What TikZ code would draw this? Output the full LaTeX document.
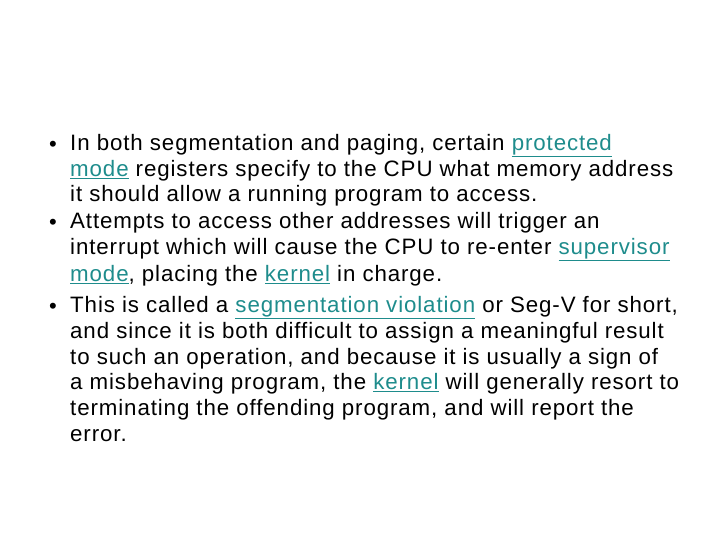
\documentclass[tikz,border=0pt]{standalone}
\usepackage{fontspec}
\setmainfont{Liberation Sans}[LetterSpace=4]
\definecolor{lnk}{RGB}{30,140,140}
\newcommand{\lk}[1]{\textcolor{lnk}{\underline{#1}}}
\begin{document}
\begin{tikzpicture}[x=1pt,y=-1pt,
  ln/.style={anchor=mid west,inner sep=0pt,font=\fontsize{22.3}{26}\selectfont},
  bl/.style={anchor=mid,inner sep=0pt,font=\fontsize{22}{26}\selectfont}]
\useasboundingbox (0,0) rectangle (720,540);
\node[bl] (b1) at (53,149) {•};
\node[bl] (b2) at (53,227) {•};
\node[bl] (b3) at (53,311) {•};
\node[ln] (l1) at (70,148) {In both segmentation and paging, certain \lk{protected}};
\node[ln] (l2) at (70,174) {\lk{mode} registers specify to the CPU what memory address};
\node[ln] (l3) at (70,199) {it should allow a running program to access.};
\node[ln] (l4) at (70,226) {Attempts to access other addresses will trigger an};
\node[ln] (l5) at (70,252) {interrupt which will cause the CPU to re-enter \lk{supervisor}};
\node[ln] (l6) at (70,279) {\lk{mode}, placing the \lk{kernel} in charge.};
\node[ln] (l7) at (70,310) {This is called a \lk{segmentation violation} or Seg-V for short,};
\node[ln] (l8) at (70,336) {and since it is both difficult to assign a meaningful result};
\node[ln] (l9) at (70,362) {to such an operation, and because it is usually a sign of};
\node[ln] (l10) at (70,387) {a misbehaving program, the \lk{kernel} will generally resort to};
\node[ln] (l11) at (70,413) {terminating the offending program, and will report the};
\node[ln] (l12) at (70,439) {error.};
\end{tikzpicture}
\end{document}
